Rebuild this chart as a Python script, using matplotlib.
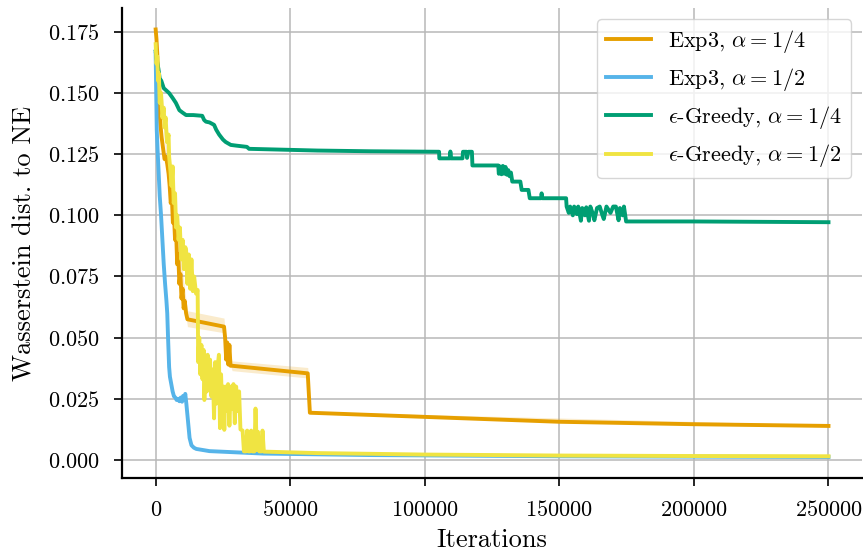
import matplotlib
matplotlib.use("Agg")
import matplotlib.pyplot as plt

plt.rcParams['font.family'] = 'serif'
plt.rcParams['font.serif'] = ['cmr10', 'DejaVu Serif']
plt.rcParams['mathtext.fontset'] = 'cm'
plt.rcParams['axes.formatter.use_mathtext'] = True

# ---------------- data ----------------
labels = [r"Exp3, $\alpha=1/4$", r"Exp3, $\alpha=1/2$",
          r"$\epsilon$-Greedy, $\alpha=1/4$", r"$\epsilon$-Greedy, $\alpha=1/2$"]
colors = ["#E69F00", "#56B4E9", "#009E73", "#F0E442"]

exp3_q_iter = [0, 300, 600, 900, 1300, 1700, 2200, 2800, 3300, 3800, 4300, 4800, 5200, 5600,
               6000, 6400, 6800, 7200, 7600, 8000, 8400, 8800, 9200, 9600, 10000, 10400,
               10800, 11300, 11800, 25400, 25800, 26200, 26600, 27000, 27400, 27800, 28400,
               56500, 57300, 100000, 150000, 200000, 250000]
exp3_q_val = [0.176, 0.172, 0.166, 0.155, 0.145, 0.138, 0.132, 0.127, 0.123, 0.124, 0.121,
              0.117, 0.112, 0.105, 0.108, 0.097, 0.100, 0.090, 0.093, 0.080, 0.084, 0.072,
              0.076, 0.066, 0.070, 0.062, 0.065, 0.060, 0.0575, 0.0545, 0.050, 0.041, 0.048,
              0.039, 0.047, 0.0385, 0.0385, 0.0354, 0.0193, 0.0176, 0.0156, 0.0146, 0.0139]
exp3_q_band_iter = [0, 5000, 11800, 25400, 25800, 28400, 56500, 57300, 250000]
exp3_q_band_lo = [0.170, 0.110, 0.0545, 0.0520, 0.0460, 0.0365, 0.0335, 0.0188, 0.0135]
exp3_q_band_hi = [0.177, 0.120, 0.0610, 0.0580, 0.0520, 0.0405, 0.0378, 0.0198, 0.0143]

exp3_h_iter = [0, 200, 400, 700, 1000, 1500, 2000, 2500, 3000, 3500, 4000, 4300, 4600, 5000,
               5300, 5800, 6300, 6800, 7300, 7800, 8300, 8800, 9300, 9800, 10200, 10600,
               11000, 11400, 12000, 12600, 13300, 14200, 15100, 20000, 32000, 40000, 79000,
               150000, 250000]
exp3_h_val = [0.166, 0.150, 0.135, 0.127, 0.120, 0.108, 0.100, 0.090, 0.080, 0.072, 0.065,
              0.060, 0.050, 0.038, 0.034, 0.031, 0.028, 0.026, 0.0255, 0.0245, 0.025, 0.024,
              0.0255, 0.0238, 0.0262, 0.0245, 0.027, 0.023, 0.016, 0.009, 0.0060, 0.0050,
              0.0045, 0.0036, 0.0030, 0.0026, 0.0020, 0.0015, 0.0012]

greedy_q_iter = [0, 500, 1000, 1500, 2100, 3000, 4000, 5000, 6300, 7500, 8800, 10000, 11300,
                 14000, 17300, 18000, 18700, 20000, 21700, 22500, 23600, 25000, 26000, 27900,
                 30000, 33900, 34700, 60000, 80000, 105300, 105400, 109300, 109500, 109800,
                 114000, 114200, 115500, 115700, 116200, 117500, 117700, 127300, 127500,
                 128000, 128500, 129000, 129500, 130000, 130500, 131000, 131500, 132000,
                 132500, 135500, 136000, 138500, 139000, 143200, 143400, 143700, 152500,
                 152700, 153500, 154000, 155000, 155500, 156500, 157000, 158000, 158500,
                 159500, 160000, 161000, 161500, 162500, 163000, 164000, 165000, 166000,
                 166500, 167500, 169000, 170000, 171000, 172000, 172500, 173500, 174000,
                 174800, 200000, 250000]
greedy_q_val = [0.167, 0.163, 0.160, 0.156, 0.155, 0.152, 0.151, 0.150, 0.148, 0.146, 0.143,
                0.142, 0.1410, 0.1410, 0.1407, 0.139, 0.1383, 0.138, 0.137, 0.135, 0.133,
                0.131, 0.130, 0.1288, 0.1285, 0.128, 0.1272, 0.1265, 0.1262, 0.1260, 0.1233,
                0.1233, 0.1261, 0.1233, 0.1233, 0.1260, 0.1260, 0.1235, 0.1260, 0.1260,
                0.1204, 0.1204, 0.1170, 0.1200, 0.1168, 0.1202, 0.1170, 0.1198, 0.1166,
                0.1185, 0.1160, 0.1175, 0.1138, 0.1138, 0.1104, 0.1104, 0.1070, 0.1070,
                0.1090, 0.1070, 0.1070, 0.1036, 0.1010, 0.1036, 0.1000, 0.1036, 0.1005,
                0.1036, 0.0978, 0.1030, 0.1000, 0.1033, 0.0978, 0.1036, 0.1005, 0.0980,
                0.1030, 0.1036, 0.1000, 0.0985, 0.1036, 0.1010, 0.1036, 0.1036, 0.0980,
                0.1030, 0.1000, 0.1036, 0.0975, 0.0975, 0.0972]

greedy_h_iter = [0, 300, 600, 900, 1200, 1500, 2000, 2500, 3000, 3300, 3700, 4200, 4800, 5000,
                 5500, 5900, 6300, 6700, 7200, 7600, 8000, 8500, 9000, 9500, 10000, 10500,
                 11000, 11300, 11800, 12300, 12800, 13300, 13800, 14300, 15000, 15600, 15800,
                 16200, 16600, 17000, 17400, 17800, 18100, 18500, 19000, 19300, 19700, 20200,
                 20700, 21200, 21700, 22100, 22500, 23000, 23500, 23900, 24300, 24700, 25100,
                 25500, 25900, 26400, 26900, 27400, 27900, 28400, 28900, 29400, 29900, 30500,
                 31000, 31500, 32300, 32800, 33500, 34000, 34500, 35000, 35500, 36000, 36700,
                 37100, 37600, 38000, 38500, 39300, 39700, 40200, 60000, 100000, 150000,
                 200000, 250000]
greedy_h_val = [0.170, 0.162, 0.165, 0.155, 0.158, 0.146, 0.150, 0.140, 0.144, 0.136, 0.140,
                0.130, 0.133, 0.124, 0.118, 0.112, 0.120, 0.105, 0.109, 0.095, 0.100, 0.090,
                0.095, 0.082, 0.090, 0.078, 0.087, 0.086, 0.072, 0.084, 0.070, 0.082, 0.069,
                0.075, 0.068, 0.0695, 0.040, 0.050, 0.035, 0.047, 0.033, 0.045, 0.0245, 0.040,
                0.028, 0.043, 0.030, 0.041, 0.026, 0.037, 0.017, 0.040, 0.023, 0.038, 0.043,
                0.013, 0.035, 0.020, 0.030, 0.0123, 0.030, 0.020, 0.031, 0.014, 0.030, 0.021,
                0.031, 0.015, 0.030, 0.020, 0.028, 0.0125, 0.012, 0.0035, 0.0035, 0.0120,
                0.0035, 0.0035, 0.012, 0.0035, 0.0035, 0.021, 0.004, 0.0115, 0.0035, 0.0035,
                0.012, 0.0034, 0.0028, 0.0022, 0.0018, 0.0016, 0.0015]

x_ticks = [0, 50000, 100000, 150000, 200000, 250000]
y_ticks = [0.000, 0.025, 0.050, 0.075, 0.100, 0.125, 0.150, 0.175]

# ---------------- plot ----------------
fig = plt.figure(figsize=(8.63, 5.52), dpi=100)
ax = fig.add_axes([0.1414, 0.134, 0.8576, 0.8516])

lw = 2.8
ax.fill_between(exp3_q_band_iter, exp3_q_band_lo, exp3_q_band_hi, color=colors[0],
                alpha=0.2, linewidth=0)
ax.plot(exp3_q_iter, exp3_q_val, color=colors[0], lw=lw, label=labels[0])
ax.plot(exp3_h_iter, exp3_h_val, color=colors[1], lw=lw, label=labels[1])
ax.plot(greedy_q_iter, greedy_q_val, color=colors[2], lw=lw, label=labels[2])
ax.plot(greedy_h_iter, greedy_h_val, color=colors[3], lw=lw, label=labels[3])

ax.set_xlim(-12500, 262500)
ax.set_ylim(-0.0074, 0.1848)
ax.set_xticks(x_ticks)
ax.set_yticks(y_ticks)
ax.tick_params(axis='both', labelsize=16, direction='out', length=6, width=1.2, pad=10)
ax.grid(True, color='#b8b8b8', linewidth=1.1)
ax.set_axisbelow(True)
for s in ['top', 'right']:
    ax.spines[s].set_visible(False)
for s in ['left', 'bottom']:
    ax.spines[s].set_linewidth(1.6)

ax.set_xlabel("Iterations", fontsize=19, labelpad=6)
ax.set_ylabel("Wasserstein dist. to NE", fontsize=19, labelpad=8)
ax.legend(loc='upper right', fontsize=16, framealpha=0.8, handlelength=2.0)

fig.savefig("out.png", dpi=100)
